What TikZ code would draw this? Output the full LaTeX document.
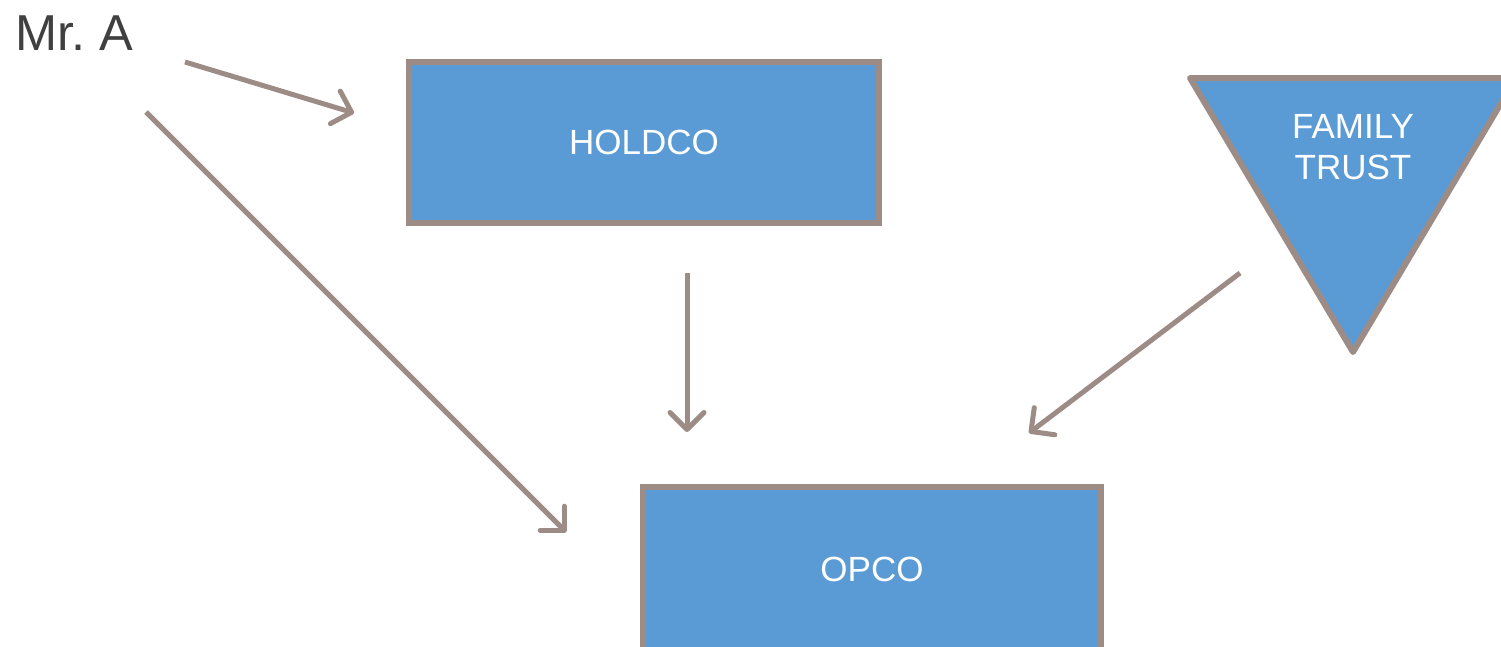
\documentclass[tikz,border=0pt]{standalone}
\usepackage{fontspec}
\setmainfont{Liberation Sans}
\usetikzlibrary{arrows.meta}
\definecolor{boxblue}{HTML}{5B9BD5}
\definecolor{edgegray}{HTML}{9D8C85}
\definecolor{textgray}{HTML}{404040}

\begin{document}
\begin{tikzpicture}[x=1pt,y=1pt,
  entity/.style={draw=edgegray,line width=6pt,fill=boxblue,text=white,
    font=\fontsize{35}{41}\selectfont,inner sep=0pt},
  owns/.style={draw=edgegray,line width=5pt,
    -{Straight Barb[length=17pt,width=34pt,line cap=round,line join=round]}}]
\useasboundingbox (0,-646) rectangle (1501,0);
% owners and companies:
\node[anchor=base west,text=textgray,font=\fontsize{50.5}{56}\selectfont,inner sep=0pt] (mra) at (15,-50) {Mr.\ A};
\node[entity,minimum width=470pt,minimum height=161pt] (holdco) at (644,-142.5) {HOLDCO};
\node[entity,minimum width=458pt,minimum height=164pt] (opco) at (872,-569) {OPCO};
\path[draw=edgegray,line width=6pt,line join=round,fill=boxblue] (1190,-78) -- (1516,-78) -- (1353,-352) -- cycle;
\node[text=white,font=\fontsize{35}{41}\selectfont,align=center,inner sep=0pt] (trust) at (1353,-147) {FAMILY\\TRUST};
% connector ends:
\coordinate (mra-a) at (185,-62);
\coordinate (mra-b) at (146,-112);
\coordinate (hold-in) at (354,-113);
\coordinate (hold-out) at (687,-273);
\coordinate (op-left) at (566,-532);
\coordinate (op-top) at (687,-432);
\coordinate (op-right) at (1029,-433);
\coordinate (trust-out) at (1240,-273);
% ownership:
\draw[owns] (mra-a) -- (hold-in);
\draw[owns] (mra-b) -- (op-left);
\draw[owns] (hold-out) -- (op-top);
\draw[owns] (trust-out) -- (op-right);
\end{tikzpicture}
\end{document}
